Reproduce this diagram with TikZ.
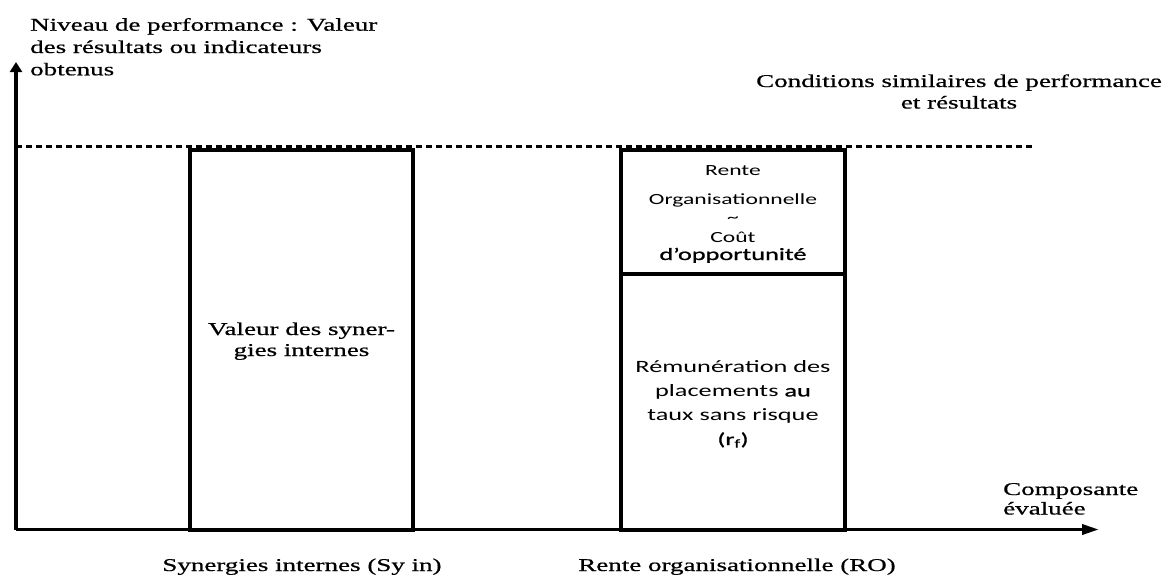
\documentclass[tikz,border=0pt]{standalone}
\usepackage{fontspec}
\setmainfont[FakeStretch=1.5,FakeBold=0.7]{Liberation Serif}
\newfontfamily\calib[FakeStretch=1.52]{Carlito}
\newfontfamily\calibb[FakeStretch=1.52,FakeBold=1.1]{Carlito}
\usetikzlibrary{arrows.meta}
\begin{document}
\begin{tikzpicture}[x=1pt,y=-1pt,
  lbl/.style={inner sep=0pt, font=\fontsize{18}{22.3}\selectfont},
  bar/.style={draw, line width=4pt, inner sep=0pt, minimum width=223pt},
  yaxis/.style={line width=4pt, -{Triangle[length=10pt,width=12pt]}},
  xaxis/.style={line width=3.6pt, -{Triangle[length=17pt,width=10pt]}},
  sans/.style={inner sep=0pt, align=center, font=\calib\fontsize{15.5}{18}\selectfont}]
\useasboundingbox (0,0) rectangle (1165,574);
\coordinate (o) at (16,529.5);
\coordinate (ytip) at (16,62);
\coordinate (xtip) at (1099,529.5);
\coordinate (dl) at (16,146);
\coordinate (dr) at (1033,146);
\draw[line width=3pt, dash pattern=on 6pt off 4pt] (dl) -- (dr);
\node[bar, minimum height=379.5pt] (sy) at (301.5,339.75) {};
\node[bar, minimum width=224pt, minimum height=124pt] (ro1) at (733,212) {};
\node[bar, minimum width=224pt, minimum height=255.5pt] (ro2) at (733,401.75) {};
\draw[yaxis] (o) -- (ytip);
\draw[xaxis] (o) -- (xtip);
\node[lbl, anchor=base west, align=left] (ylab) at (30,75.3) {Niveau de performance : Valeur\\des résultats ou indicateurs\\obtenus};
\node[lbl, anchor=base, align=center, font=\fontsize{18}{21.5}\selectfont] (cond) at (959,108.5) {Conditions similaires de performance\\et résultats};
\node[lbl, anchor=base west, align=left, font=\fontsize{18}{19.5}\selectfont] (xlab) at (1003,514.5) {Composante\\évaluée};
\node[lbl, anchor=base, align=center, font=\fontsize{18}{21}\selectfont] (syt) at (301.5,356) {Valeur des syner-\\gies internes};
\node[lbl, anchor=base] (syl) at (302,571) {Synergies internes (Sy in)};
\node[lbl, anchor=base] (rol) at (737,571) {Rente organisationnelle (RO)};
\node[sans, anchor=base] (rot) at (733,260) {Rente\\[11pt]Organisationnelle\\\textasciitilde\\[2pt]Coût\\{\calibb\fontsize{17.3}{18}\selectfont d’opportunité}};
\node[sans, anchor=base, font=\calib\fontsize{17.3}{24.3}\selectfont] (rob) at (733,445) {Rémunération des\\placements {\calibb au}\\taux sans risque\\{\calibb(r\textsubscript{f})}};
\end{tikzpicture}
\end{document}
